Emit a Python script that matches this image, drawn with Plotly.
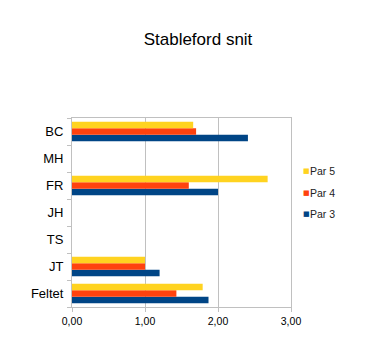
import plotly.graph_objects as go

categories = ["BC", "MH", "FR", "JH", "TS", "JT", "Feltet"]
series_names = ["Par 3", "Par 4", "Par 5"]
par3 = [2.41, None, 2.00, None, None, 1.20, 1.87]
par4 = [1.70, None, 1.60, None, None, 1.00, 1.43]
par5 = [1.66, None, 2.68, None, None, 1.00, 1.79]
colors = ["#004586", "#ff420e", "#ffd320"]
x_ticks = [0, 1, 2, 3]
x_tick_labels = ["0,00", "1,00", "2,00", "3,00"]

fig = go.Figure()
for name, vals, col in zip(series_names, [par3, par4, par5], colors):
    fig.add_trace(go.Bar(y=categories, x=vals, name=name, orientation="h",
                         marker=dict(color=col, line=dict(width=0)),
                         showlegend=False))

# legend as annotations (small squares)
legend_y = {"Par 5": 171, "Par 4": 193, "Par 3": 214}
for name, col in zip(series_names, colors):
    yy = 1 - (legend_y[name] - 118) / 189
    fig.add_annotation(
        xref="paper", yref="paper", x=(306 - 72) / 219, xanchor="center",
        y=yy, yanchor="middle", text="■", showarrow=False,
        font=dict(family="DejaVu Sans", size=7, color=col))
    fig.add_annotation(
        xref="paper", yref="paper", x=(308 - 72) / 219, xanchor="left",
        y=yy, yanchor="middle", text=name, showarrow=False,
        font=dict(family="Liberation Sans, Arial", size=10.5, color="#222222"))

fig.update_layout(
    width=366, height=349,
    margin=dict(l=72, r=75, t=118, b=42),
    paper_bgcolor="white", plot_bgcolor="white",
    barmode="group", bargap=0.27, bargroupgap=0,
    font=dict(family="Liberation Sans, Arial", color="#000000"),
    title=dict(text="Stableford snit", x=198 / 366, xanchor="center",
               y=1 - 39 / 349, yanchor="middle",
               font=dict(size=17, color="#000000")),
    xaxis=dict(range=[0, 3], tickvals=x_ticks, ticktext=x_tick_labels,
               showgrid=True, gridcolor="#c0c0c0", gridwidth=1,
               showline=True, linecolor="#c0c0c0", mirror=True,
               ticks="outside", ticklen=4, tickcolor="#c0c0c0",
               tickfont=dict(size=10.5), zeroline=False),
    yaxis=dict(categoryorder="array", categoryarray=categories[::-1],
               showgrid=False, showline=True, linecolor="#c0c0c0", mirror=True,
               ticks="outside", ticklen=4, tickcolor="#c0c0c0",
               tickson="boundaries", tickfont=dict(size=13),
               ticklabelstandoff=5),
)

fig.write_html("out.html")
